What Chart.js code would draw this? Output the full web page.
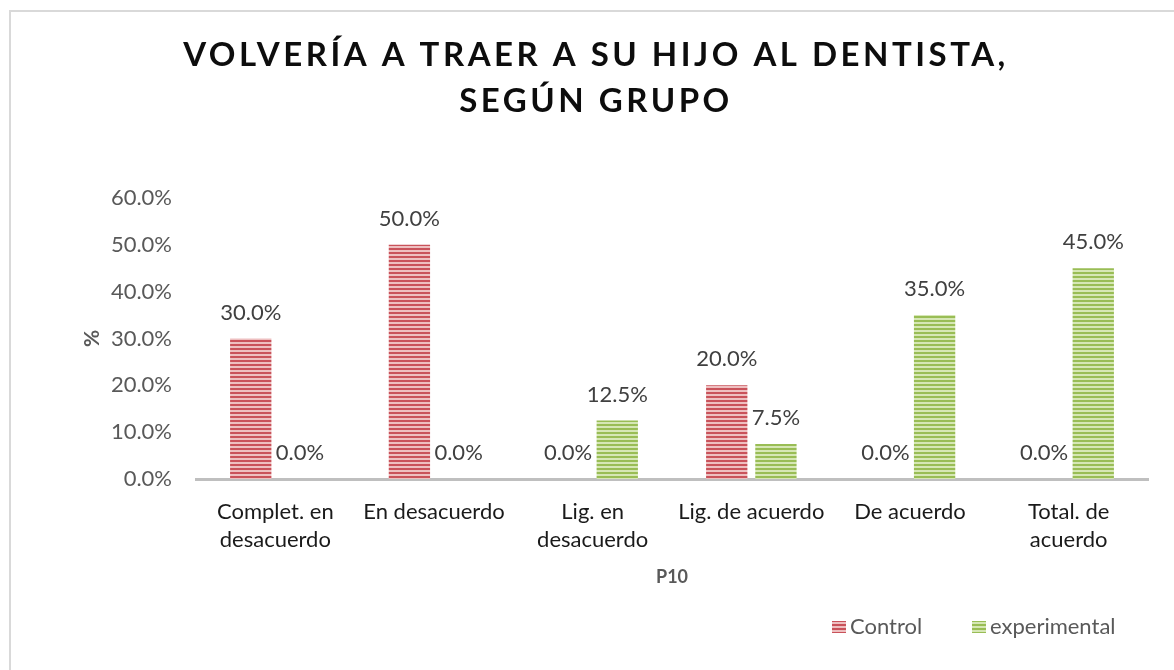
<!DOCTYPE html>
<html>
<head>
<meta charset="utf-8">
<script src="https://cdn.jsdelivr.net/npm/chart.js@4.4.1/dist/chart.umd.min.js"></script>
<style>
  html, body { margin: 0; padding: 0; background: #ffffff; }
  #wrap { position: relative; width: 1174px; height: 670px; }
</style>
</head>
<body>
<div id="wrap"><canvas id="c" width="1174" height="670"></canvas></div>
<script>
const titleLines = ['VOLVERÍA A TRAER A SU HIJO AL DENTISTA,', 'SEGÚN GRUPO'];
const categories = [
  ['Complet. en', 'desacuerdo'],
  'En desacuerdo',
  ['Lig. en', 'desacuerdo'],
  'Lig. de acuerdo',
  'De acuerdo',
  ['Total. de', 'acuerdo']
];
const seriesNames = ['Control', 'experimental'];
const controlValues = [30.0, 50.0, 0.0, 20.0, 0.0, 0.0];
const experimentalValues = [0.0, 0.0, 12.5, 7.5, 35.0, 45.0];
const yTicks = [0, 10, 20, 30, 40, 50, 60];
const xAxisTitle = 'P10';
const yAxisTitle = '%';

function stripePattern(dark, light) {
  const p = document.createElement('canvas');
  p.width = 4; p.height = 4;
  const g = p.getContext('2d');
  g.fillStyle = light; g.fillRect(0, 0, 4, 4);
  g.fillStyle = dark; g.fillRect(0, 0, 4, 2);
  return g.createPattern(p, 'repeat');
}
const ctx = document.getElementById('c').getContext('2d');
const redPat = stripePattern('#c9525a', '#eebfc0');
const greenPat = stripePattern('#99bd55', '#d6e7b5');

const FONT = 'Lato, "Open Sans", sans-serif';

const decor = {
  id: 'decor',
  beforeDraw(chart) {
    const c = chart.ctx;
    c.save();
    c.fillStyle = '#ffffff';
    c.fillRect(0, 0, chart.width, chart.height);
    c.strokeStyle = '#d9d9d9';
    c.lineWidth = 2;
    c.strokeRect(10, 11, 2000, 2000);
    c.restore();
  },
  afterDraw(chart) {
    const c = chart.ctx;
    c.save();
    // title
    c.fillStyle = '#0d0d0d';
    c.font = 'bold 33px ' + FONT;
    c.textAlign = 'center';
    c.textBaseline = 'middle';
    try { c.letterSpacing = '3.5px'; } catch (e) {}
    const ys = [55, 101];
    titleLines.forEach((t, i) => c.fillText(t, 596, ys[i]));
    try { c.letterSpacing = '0px'; } catch (e) {}
    // legend
    c.font = '22px ' + FONT;
    c.textAlign = 'left';
    const legendX = [832, 972];
    const ly = 627;
    chart.data.datasets.forEach((ds, i) => {
      c.fillStyle = ds.backgroundColor;
      c.fillRect(legendX[i], ly - 6, 14, 12);
      c.fillStyle = '#595959';
      c.fillText(ds.label, legendX[i] + 18, ly);
    });
    c.restore();
  }
};

const valueLabels = {
  id: 'valueLabels',
  afterDatasetsDraw(chart) {
    const c = chart.ctx;
    c.save();
    c.font = '22px ' + FONT;
    c.fillStyle = '#404040';
    c.textAlign = 'center';
    c.textBaseline = 'middle';
    chart.data.datasets.forEach((ds, i) => {
      const meta = chart.getDatasetMeta(i);
      meta.data.forEach((bar, j) => {
        c.fillText(ds.data[j].toFixed(1) + '%', bar.x, bar.y - 26);
      });
    });
    c.restore();
  }
};

new Chart(ctx, {
  type: 'bar',
  data: {
    labels: categories,
    datasets: [
      { label: seriesNames[0], data: controlValues, backgroundColor: redPat, borderWidth: 0,
        categoryPercentage: 0.62, barPercentage: 0.84 },
      { label: seriesNames[1], data: experimentalValues, backgroundColor: greenPat, borderWidth: 0,
        categoryPercentage: 0.62, barPercentage: 0.84 }
    ]
  },
  options: {
    responsive: false,
    animation: false,
    devicePixelRatio: 1,
    layout: { padding: { left: 78, right: 26, top: 198, bottom: 71 } },
    plugins: {
      legend: { display: false },
      title: { display: false },
      tooltip: { enabled: false }
    },
    scales: {
      x: {
        grid: { display: false },
        border: { display: true, color: '#bfbfbf', width: 3 },
        ticks: {
          color: '#1a1a1a',
          font: { family: FONT, size: 22, lineHeight: 1.27 },
          padding: 11,
          maxRotation: 0,
          autoSkip: false
        },
        title: {
          display: true, text: xAxisTitle, color: '#595959',
          font: { family: FONT, size: 18, weight: 'bold' },
          padding: { top: 0, bottom: 11 }
        },
        afterFit(scale) { scale.height = 120; }
      },
      y: {
        min: 0, max: 60,
        grid: { display: false },
        border: { display: false },
        afterBuildTicks(scale) { scale.ticks = yTicks.map(v => ({ value: v })); },
        ticks: {
          color: '#595959',
          font: { family: FONT, size: 22 },
          padding: 16,
          callback: v => Number(v).toFixed(1) + '%'
        },
        title: {
          display: true, text: yAxisTitle, color: '#595959',
          font: { family: FONT, size: 21, weight: 'bold' },
          padding: { top: 2, bottom: 0 }
        },
        afterFit(scale) { scale.width = 118; }
      }
    }
  },
  plugins: [decor, valueLabels]
});
</script>
</body>
</html>
